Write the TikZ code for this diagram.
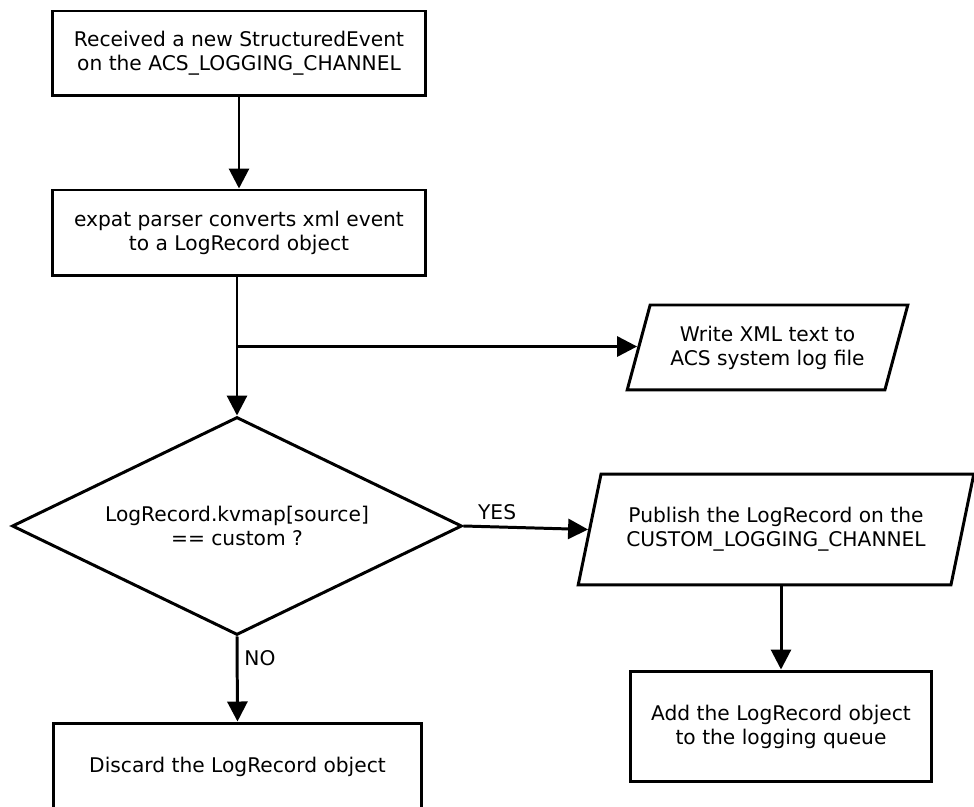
\documentclass[tikz,border=0pt]{standalone}
\usepackage{fontspec}
\setmainfont{DejaVu Sans}
\usetikzlibrary{calc}
\usetikzlibrary{positioning}
\usetikzlibrary{shapes.geometric}
\usetikzlibrary{arrows.meta}
\tikzstyle{stepnode} = [draw, rectangle, line width=1.7pt, align=center, font=\fontsize{11.5}{13.7}\selectfont]
\tikzstyle{ionode} = [draw, trapezium, trapezium left angle=70, trapezium right angle=110, trapezium stretches=true, line width=1.7pt, align=center, font=\fontsize{11.5}{13.7}\selectfont]
\tikzstyle{decnode} = [draw, diamond, aspect=2.06, line width=1.7pt, align=center, inner sep=0pt, font=\fontsize{11.5}{13.7}\selectfont]
\tikzstyle{flow} = [line width=1.7pt, -{Triangle[length=0.4cm,width=0.4cm]}]
\tikzstyle{lbl} = [font=\fontsize{11.5}{13.7}\selectfont]

\begin{document}
\begin{tikzpicture}[x=0.02cm, y=-0.02cm]
\clip (0,0) rectangle (974,807);
\node[stepnode, minimum width=7.48cm, minimum height=1.7cm] (received) at (239,53.5) {Received a new StructuredEvent\\on the ACS\_LOGGING\_CHANNEL};
\node[stepnode, minimum width=7.48cm, minimum height=1.72cm] (parse) at (239,233) {expat parser converts xml event\\to a LogRecord object};
\node[decnode, minimum width=9cm, minimum height=4.36cm] (iscustom) at (237,526) {LogRecord.kvmap[source]\\== custom ?};
\node[ionode, minimum width=5.62cm, minimum height=1.7cm] (xmlfile) at (767.5,347.5) {Write XML text to\\ACS system log file};
\node[ionode, minimum width=7.92cm, minimum height=2.22cm] (publish) at (776,529.5) {Publish the LogRecord on the\\CUSTOM\_LOGGING\_CHANNEL};
\node[stepnode, minimum width=6.04cm, minimum height=2.22cm] (queue) at (781,726.5) {Add the LogRecord object\\to the logging queue};
\node[stepnode, minimum width=7.38cm, minimum height=1.76cm] (discard) at (237.5,767) {Discard the LogRecord object};

\draw[flow] (received) -- (parse);
\draw[flow] (parse.south -| iscustom.north) -- (iscustom.north);
\coordinate (split) at ($(parse.south -| iscustom.north)!0.5!(iscustom.north)$);
\draw[flow] (split) -- (split -| xmlfile.west);
\draw[flow] (iscustom.east) -- node[lbl, above, pos=0.27] {YES} (publish.west);
\draw[flow] (iscustom.south) -- node[lbl, right, pos=0.26] {NO} (discard.north);
\draw[flow] (publish.south -| queue.north) -- (queue.north);
\end{tikzpicture}
\end{document}
